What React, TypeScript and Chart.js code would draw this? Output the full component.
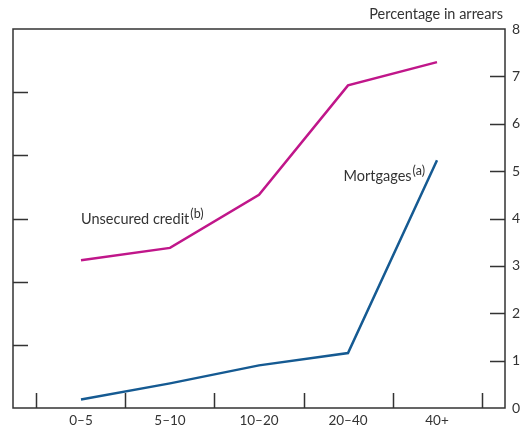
import React, { useEffect, useRef } from "react";
import { Chart, registerables } from "chart.js";

Chart.register(...registerables);

const categories = ["0–5", "5–10", "10–20", "20–40", "40+"];
const unsecuredCredit = [3.12, 3.38, 4.5, 6.81, 7.3];
const mortgages = [0.18, 0.52, 0.9, 1.16, 5.23];
const rightTicks = [0, 1, 2, 3, 4, 5, 6, 7, 8];
const leftTicks = [1, 2, 3, 4, 5];
const xBoundaries = [-0.5, 0.5, 1.5, 2.5, 3.5, 4.5];

const FONT = "Lato";
const TEXT = "#333333";
const AXIS = "#333333";
const PINK = "#C0168A";
const BLUE = "#155A92";

const decorPlugin = {
  id: "decor",
  afterDatasetsDraw(chart: any) {
    const { ctx, chartArea: a, scales } = chart;
    const x = scales.x;
    const yR = scales.y;
    const yL = scales.yL;
    ctx.save();
    ctx.strokeStyle = AXIS;
    ctx.lineWidth = 1.5;
    ctx.strokeRect(a.left, a.top, a.right - a.left, a.bottom - a.top);
    const tl = 15;
    ctx.beginPath();
    leftTicks.forEach((v) => {
      const py = Math.round(yL.getPixelForValue(v)) + 0.5;
      ctx.moveTo(a.left, py);
      ctx.lineTo(a.left + tl, py);
    });
    rightTicks.slice(1, -1).forEach((v) => {
      const py = Math.round(yR.getPixelForValue(v)) + 0.5;
      ctx.moveTo(a.right, py);
      ctx.lineTo(a.right - tl, py);
    });
    xBoundaries.forEach((v) => {
      const px = Math.round(x.getPixelForValue(v)) + 0.5;
      ctx.moveTo(px, a.bottom);
      ctx.lineTo(px, a.bottom - tl);
    });
    ctx.stroke();

    ctx.fillStyle = TEXT;
    ctx.textBaseline = "alphabetic";
    ctx.textAlign = "right";
    ctx.font = `14.5px ${FONT}`;
    ctx.fillText("Percentage in arrears", a.right - 2, 19);

    ctx.textAlign = "left";
    const drawLabel = (main: string, sup: string, px: number, py: number) => {
      ctx.font = `14.5px ${FONT}`;
      ctx.fillText(main, px, py);
      const w = ctx.measureText(main).width;
      ctx.font = `12.5px ${FONT}`;
      ctx.fillText(sup, px + w + 1, py - 6);
    };
    drawLabel("Unsecured credit", "(b)", x.getPixelForValue(0), 224);
    drawLabel("Mortgages", "(a)", x.getPixelForValue(2.95), 181);
    ctx.restore();
  },
};

export default function App() {
  const ref = useRef<HTMLCanvasElement>(null);
  useEffect(() => {
    if (!ref.current) return;
    const chart = new Chart(ref.current, {
      type: "line",
      data: {
        datasets: [
          {
            label: "Unsecured credit",
            data: unsecuredCredit.map((v, i) => ({ x: i, y: v })),
            borderColor: PINK,
            borderWidth: 2.5,
            pointRadius: 0,
            tension: 0,
            yAxisID: "y",
          },
          {
            label: "Mortgages",
            data: mortgages.map((v, i) => ({ x: i, y: v })),
            borderColor: BLUE,
            borderWidth: 2.5,
            pointRadius: 0,
            tension: 0,
            yAxisID: "y",
          },
        ],
      },
      options: {
        animation: false,
        responsive: true,
        maintainAspectRatio: false,
        layout: { padding: { top: 29, left: 0, right: 0, bottom: 0 } },
        plugins: {
          legend: { display: false },
          tooltip: { enabled: false },
          title: { display: false },
        },
        scales: {
          x: {
            type: "linear",
            min: -0.764,
            max: 4.764,
            afterBuildTicks: (s: any) => {
              s.ticks = categories.map((_, i) => ({ value: i }));
            },
            afterFit: (s: any) => {
              s.height = 19;
            },
            grid: { display: false, drawTicks: false },
            border: { display: false },
            ticks: {
              autoSkip: false,
              maxRotation: 0,
              padding: 5,
              color: TEXT,
              font: { family: FONT, size: 13.5 },
              callback: (v: any) => categories[Math.round(Number(v))] ?? "",
            },
          },
          y: {
            type: "linear",
            position: "right",
            min: 0,
            max: 8,
            afterBuildTicks: (s: any) => {
              s.ticks = rightTicks.map((v) => ({ value: v }));
            },
            afterFit: (s: any) => {
              s.width = 19;
            },
            grid: { display: false, drawTicks: false },
            border: { display: false },
            ticks: {
              padding: 7,
              color: TEXT,
              font: { family: FONT, size: 14 },
            },
          },
          yL: {
            type: "linear",
            position: "left",
            min: 0,
            max: 6,
            afterFit: (s: any) => {
              s.width = 13;
            },
            grid: { display: false, drawTicks: false },
            border: { display: false },
            ticks: { display: false },
          },
        },
      },
      plugins: [decorPlugin],
    });
    return () => chart.destroy();
  }, []);
  return (
    <div style={{ position: "fixed", left: 0, top: 0, width: 524, height: 427, background: "#fff" }}>
      <canvas ref={ref} />
    </div>
  );
}
